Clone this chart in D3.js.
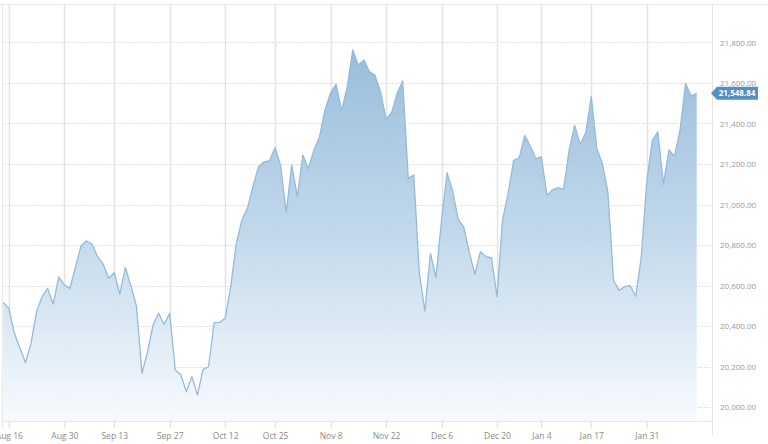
<!DOCTYPE html>
<html><head><meta charset="utf-8">
<script src="https://cdn.jsdelivr.net/npm/d3@7"></script>
<style>html,body{margin:0;padding:0;background:#fff;overflow:hidden}</style>
</head><body><svg id="c" width="768" height="444"></svg>
<script>
const values = [
  20517,20487,20364,20290,20219,20315,20471,20545,20586,20509,
  20643,20602,20586,20690,20795,20820,20805,20742,20706,20636,
  20663,20558,20690,20598,20499,20166,20273,20405,20463,20408,
  20463,20183,20158,20076,20150,20059,20186,20199,20416,20418,
  20438,20594,20808,20923,20981,21088,21187,21211,21216,21282,
  21190,20959,21195,21039,21244,21176,21269,21335,21467,21552,
  21593,21463,21582,21763,21689,21714,21656,21639,21557,21421,
  21453,21549,21610,21129,21146,20660,20474,20759,20640,20923,
  21157,21067,20927,20890,20765,20655,20767,20742,20738,20546,
  20923,21055,21218,21230,21341,21289,21226,21235,21045,21072,
  21083,21075,21269,21391,21296,21355,21532,21275,21203,21059,
  20626,20576,20594,20600,20547,20738,21114,21317,21359,21101,
  21269,21239,21368,21598,21536,21548.84
];
const tickIndex = [1,11,20,30,40,49,59,69,79,89,97,106,116];
const tickLabels = ["Aug 16","Aug 30","Sep 13","Sep 27","Oct 12","Oct 25","Nov 8","Nov 22","Dec 6","Dec 20","Jan 4","Jan 17","Jan 31"];
const yTicks = [20000,20200,20400,20600,20800,21000,21200,21400,21600,21800];
const lastValue = values[values.length-1];

const svg = d3.select("#c");
const plotL = 2, plotR = 712, plotT = 4, plotB = 421;
const x = d3.scaleLinear().domain([0, values.length-1]).range([3.3, 696.7]);
const y = d3.scaleLinear().domain([19931, 21990]).range([plotB, plotT]);
const fmt = d3.format(",.2f");

// gradient
const defs = svg.append("defs");
const g = defs.append("linearGradient").attr("id","fillg")
  .attr("gradientUnits","userSpaceOnUse").attr("x1",0).attr("x2",0).attr("y1",40).attr("y2",plotB);
g.append("stop").attr("offset","0%").attr("stop-color","#92b9d9");
g.append("stop").attr("offset","50%").attr("stop-color","#bed6ea");
g.append("stop").attr("offset","100%").attr("stop-color","#f7fafd");

// horizontal grid
svg.append("g").selectAll("line").data(yTicks).join("line")
  .attr("x1", plotL).attr("x2", plotR-1)
  .attr("y1", d => Math.round(y(d))+0.5).attr("y2", d => Math.round(y(d))+0.5)
  .attr("stroke","#e2e2e2").attr("stroke-width",1).attr("stroke-dasharray","2,1");

// vertical grid (with ticks below)
svg.append("g").selectAll("line").data(tickIndex).join("line")
  .attr("x1", d => Math.round(x(d))+0.5).attr("x2", d => Math.round(x(d))+0.5)
  .attr("y1", plotT).attr("y2", plotB+7)
  .attr("stroke","#e4e4e4").attr("stroke-width",1.5);

// borders
svg.append("line").attr("x1",0).attr("x2",768).attr("y1",plotT+0.5).attr("y2",plotT+0.5).attr("stroke","#e8e8e8");
svg.append("line").attr("x1",plotL+0.5).attr("x2",plotL+0.5).attr("y1",plotT).attr("y2",plotB+7).attr("stroke","#e8e8e8");
svg.append("line").attr("x1",plotR+0.5).attr("x2",plotR+0.5).attr("y1",plotT).attr("y2",plotB+14).attr("stroke","#e4e4e4");
svg.append("line").attr("x1",plotL).attr("x2",plotR).attr("y1",plotB+0.5).attr("y2",plotB+0.5).attr("stroke","#e6e6e6");

// area + line
const area = d3.area().x((d,i)=>x(i)).y0(plotB).y1(d=>y(d));
const line = d3.line().x((d,i)=>x(i)).y(d=>y(d));
svg.append("path").datum(values).attr("d", area).attr("fill","url(#fillg)").attr("opacity",0.95);
svg.append("path").datum(values).attr("d", line).attr("fill","none")
  .attr("stroke","#95bbda").attr("stroke-width",1.3).attr("stroke-linejoin","round");

// y axis labels
const yAxis = d3.axisRight(y).tickValues(yTicks).tickFormat(fmt).tickSize(0).tickPadding(8);
const ya = svg.append("g").attr("transform",`translate(${plotR},0)`).call(yAxis);
ya.select(".domain").remove();
ya.selectAll("text").attr("fill","#9a9a9a").style("font-family","'Open Sans', sans-serif").style("font-size","8px");

// x axis labels
const xAxis = d3.axisBottom(x).tickValues(tickIndex).tickFormat((d,i)=>tickLabels[i]).tickSize(0).tickPadding(12);
const xa = svg.append("g").attr("transform",`translate(0,${plotB})`).call(xAxis);
xa.select(".domain").remove();
xa.selectAll("text").attr("fill","#8a8a8a").style("font-family","'Open Sans', sans-serif").style("font-size","8.5px");

// last value tag
const cy = y(lastValue);
svg.append("path")
  .attr("d", `M${plotR-1},${cy} L${plotR+5},${cy-6.5} L758,${cy-6.5} L758,${cy+6.5} L${plotR+5},${cy+6.5} Z`)
  .attr("fill","#5590c2");
svg.append("text").attr("x",737).attr("y",cy+3).attr("text-anchor","middle")
  .attr("fill","#fff").style("font-family","'Open Sans', sans-serif").style("font-size","8px").style("font-weight","bold")
  .text(fmt(lastValue));
</script>
</body></html>
